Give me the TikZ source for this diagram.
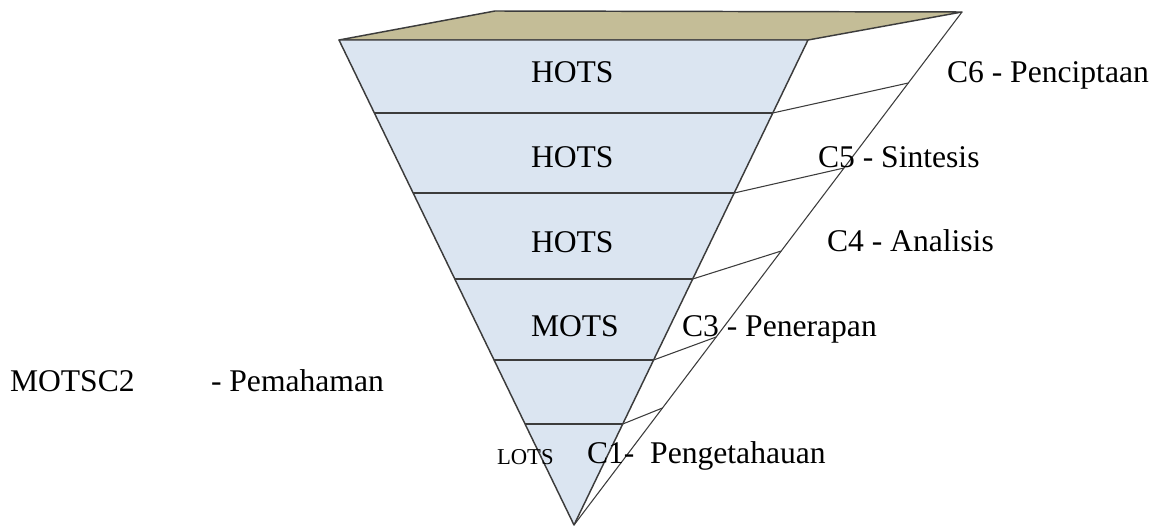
\documentclass[tikz,border=0pt]{standalone}
\usepackage{fontspec}
\setmainfont{Liberation Serif}
\usetikzlibrary{calc}
\definecolor{faceblue}{HTML}{DBE5F1}
\definecolor{facetan}{HTML}{C4BD97}
\definecolor{edgegray}{HTML}{3C3C3C}
\tikzset{
  edge/.style={draw=edgegray, line width=1.1pt, line join=round},
  thin edge/.style={draw=edgegray, line width=0.8pt},
  lbl/.style={inner sep=0pt, outer sep=0pt, anchor=base west, font=\fontsize{23.7}{28}\selectfont},
  small lbl/.style={inner sep=0pt, outer sep=0pt, anchor=base west, font=\fontsize{17}{20}\selectfont},
}
\begin{document}
\begin{tikzpicture}[x=0.75pt, y=-0.75pt]
\useasboundingbox (0,0) rectangle (1157,527);
% corners
\coordinate (A) at (339,40);
\coordinate (B) at (808,40);
\coordinate (V) at (574,525);
\coordinate (BL) at (495,11);
\coordinate (R) at (962,12);
% top face
\filldraw[fill=facetan, edge] (A) -- (BL) -- (R) -- (B) -- cycle;
% front face
\filldraw[fill=faceblue, edge] (A) -- (B) -- (V) -- cycle;
% back right edge
\draw[thin edge] (R) -- (V);
% level lines
\foreach \t/\u [count=\i] in {0.1505/0.1384, 0.3155/0.3041, 0.4928/0.4659, 0.6598/0.6335, 0.7918/0.7719}{
  \coordinate (L\i) at ($(A)!\t!(V)$);
  \coordinate (F\i) at ($(B)!\t!(V)$);
  \coordinate (K\i) at ($(R)!\u!(V)$);
  \draw[edge] (L\i) -- (F\i);
  \draw[thin edge] (F\i) -- (K\i);
}
% labels in the pyramid
\node[lbl] (h1) at (531,83) {HOTS};
\node[lbl] (h2) at (531,168) {HOTS};
\node[lbl] (h3) at (531,253) {HOTS};
\node[lbl] (m1) at (531,337) {MOTS};
\node[small lbl] (l1) at (497,464) {LOTS};
% level labels
\node[lbl] (c6) at (947,83) {C6 - Penciptaan};
\node[lbl] (c5) at (818,168) {C5 - Sintesis};
\node[lbl] (c4) at (827,252) {C4 - Analisis};
\node[lbl] (c3) at (682,337) {C3 - Penerapan};
\node[lbl] (m2) at (10,392) {MOTSC2};
\node[lbl] (c2) at (211,392) {- Pemahaman};
\node[lbl] (c1) at (587,463) {C1-\ \ Pengetahauan};
\end{tikzpicture}
\end{document}
